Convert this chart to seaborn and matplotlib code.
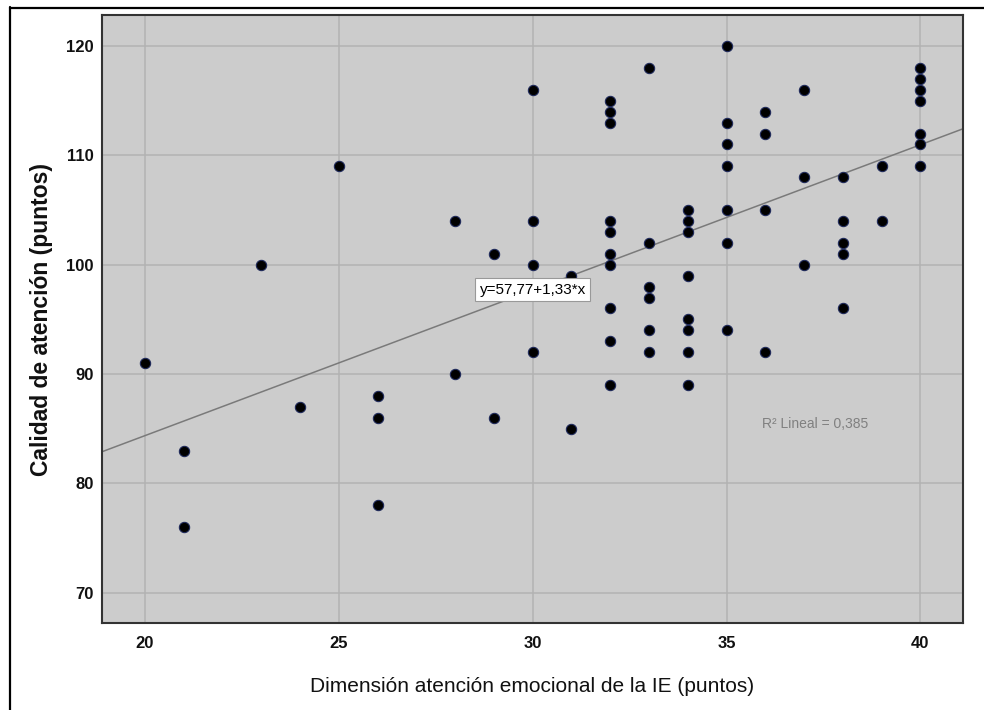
import matplotlib
matplotlib.use("Agg")
import matplotlib.pyplot as plt
import seaborn as sns
import pandas as pd
from matplotlib.lines import Line2D

# ---- data ----
x_vals = (
    [20] + [21] * 2 + [23] + [24] + [25] + [26] * 3 + [28] * 2 + [29] * 2 +
    [30] * 4 + [31] * 2 + [32] * 10 + [33] * 6 + [34] * 8 + [35] * 7 +
    [36] * 4 + [37] * 3 + [38] * 5 + [39] * 2 + [40] * 7
)
y_vals = [
    91,
    83, 76,
    100,
    87,
    109,
    88, 86, 78,
    104, 90,
    101, 86,
    116, 104, 100, 92,
    99, 85,
    115, 114, 113, 104, 103, 101, 100, 96, 93, 89,
    118, 102, 98, 97, 94, 92,
    105, 104, 103, 99, 95, 94, 92, 89,
    120, 113, 111, 109, 105, 102, 94,
    114, 112, 105, 92,
    116, 108, 100,
    108, 104, 102, 101, 96,
    109, 104,
    118, 117, 116, 115, 112, 111, 109,
]
intercept = 57.77
slope = 1.33
eq_label = "y=57,77+1,33*x"
r2_label = "R² Lineal = 0,385"
x_ticks = [20, 25, 30, 35, 40]
y_ticks = [70, 80, 90, 100, 110, 120]
x_title = "Dimensión atención emocional de la IE (puntos)"
y_title = "Calidad de atención (puntos)"

df = pd.DataFrame({"x": x_vals, "y": y_vals})

sns.set_style("white")
plt.rcParams["font.family"] = ["Liberation Sans", "DejaVu Sans"]
narrow = ["Liberation Sans Narrow", "Liberation Sans", "DejaVu Sans"]

fig = plt.figure(figsize=(9.84, 7.10), dpi=100)
W, H = 984, 710
ax = fig.add_axes([102 / W, 1 - 623 / H, (963 - 102) / W, (623 - 15) / H])
ax.set_facecolor("#CCCCCC")

ax.set_xlim(18.89, 41.10)
ax.set_ylim(67.23, 122.84)
ax.set_xticks(x_ticks)
ax.set_yticks(y_ticks)
ax.grid(True, color="#B2B2B2", linewidth=1.1)
ax.set_axisbelow(True)

# regression line
ax.axline((0, intercept), slope=slope, color="#7A7A7A", linewidth=1.1, zorder=2)

sns.scatterplot(data=df, x="x", y="y", ax=ax, s=55, color="black",
                edgecolor="#1F2A5A", linewidth=0.8, zorder=3, legend=False)

ax.set_xticks(x_ticks)
ax.set_yticks(y_ticks)
ax.set_xlim(18.89, 41.10)
ax.set_ylim(67.23, 122.84)

for sp in ax.spines.values():
    sp.set_visible(True)
    sp.set_color("#333333")
    sp.set_linewidth(1.5)

ax.tick_params(axis="both", length=0, labelsize=12, labelcolor="#111111")
ax.tick_params(axis="x", pad=9)
ax.tick_params(axis="y", pad=6)
ax.set_xticklabels([str(v) for v in x_ticks], fontweight="bold", family=narrow, fontsize=12)
ax.set_yticklabels([str(v) for v in y_ticks], fontweight="bold", family=narrow, fontsize=12)

ax.set_xlabel(x_title, fontsize=15, fontweight="normal", color="#111111")
ax.set_ylabel(y_title, fontsize=16.5, fontweight="bold", color="#111111")
ax.xaxis.set_label_coords(0.5, (623 - 687) / 608)
ax.xaxis.label.set_va("center")
ax.yaxis.set_label_coords((42 - 102) / 861, 0.5)
ax.yaxis.label.set_va("center")
ax.yaxis.label.set_ha("center")

# equation label
ax.text(30.0, 97.7, eq_label, ha="center", va="center", fontsize=11,
        family=narrow, color="black", zorder=5,
        bbox=dict(boxstyle="square,pad=0.3", facecolor="white",
                  edgecolor="#999999", linewidth=0.8))
# R^2 label
ax.text(37.28, 85.43, r2_label, ha="center", va="center", fontsize=10,
        family=narrow, color="#808080", zorder=5)

# outer frame (cropped at right / bottom)
fig.add_artist(Line2D([9.5 / W, 9.5 / W], [0, 1 - 7 / H], transform=fig.transFigure,
                      color="black", linewidth=1.6))
fig.add_artist(Line2D([9.5 / W, 1], [1 - 7.5 / H, 1 - 7.5 / H], transform=fig.transFigure,
                      color="black", linewidth=1.6))

fig.savefig("out.png", dpi=100)
